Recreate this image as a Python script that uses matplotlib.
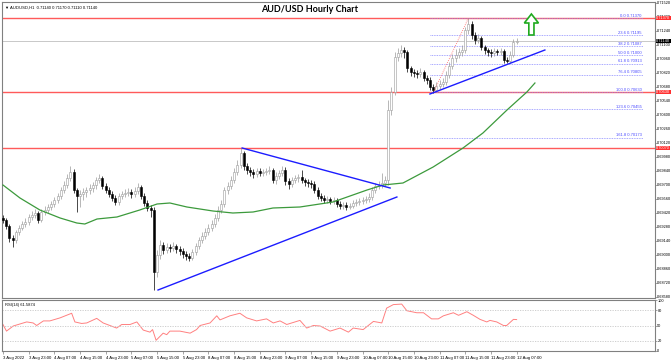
import matplotlib
matplotlib.use("Agg")
import matplotlib.pyplot as plt
from matplotlib.patches import FancyArrow
from matplotlib.transforms import blended_transform_factory

# ---- data (hourly bars, 3 Aug 15:00 -> 12 Aug 07:00) ----
title = "AUD/USD Hourly Chart"
header = "\u25bc AUDUSD,H1  0.71140 0.71170 0.71110 0.71140"

first_open = 0.6937
closes = [
    0.6935, 0.6929, 0.6917, 0.6915, 0.6923, 0.6927, 0.6931, 0.6933, 0.6938, 0.6940,
    0.6942, 0.6935, 0.6943, 0.6945, 0.6948, 0.6951, 0.6955, 0.6959, 0.6965, 0.6970,
    0.6977, 0.6983, 0.6965, 0.6959, 0.6961, 0.6963, 0.6965, 0.6967, 0.6970, 0.6975,
    0.6977, 0.6969, 0.6965, 0.6961, 0.6957, 0.6953, 0.6959, 0.6961, 0.6962, 0.6963,
    0.6961, 0.6964, 0.6968, 0.6959, 0.6952, 0.6947, 0.6945, 0.6883, 0.6900, 0.6910,
    0.6905, 0.6908, 0.6907, 0.6909, 0.6906, 0.6904, 0.6901, 0.6899, 0.6897, 0.6903,
    0.6909, 0.6915, 0.6919, 0.6923, 0.6927, 0.6931, 0.6937, 0.6945, 0.6951, 0.6965,
    0.6969, 0.6975, 0.6983, 0.6990, 0.7002, 0.6989, 0.6985, 0.6983, 0.6981, 0.6984,
    0.6982, 0.6983, 0.6984, 0.6985, 0.6975, 0.6979, 0.6982, 0.6985, 0.6974, 0.6971,
    0.6975, 0.6977, 0.6978, 0.6975, 0.6973, 0.6972, 0.6971, 0.6965, 0.6959, 0.6957,
    0.6955, 0.6956, 0.6954, 0.6955, 0.6951, 0.6949, 0.6950, 0.6948, 0.6949, 0.6952,
    0.6953, 0.6954, 0.6955, 0.6956, 0.6958, 0.6965, 0.6969, 0.6970, 0.6972, 0.6975,
    0.7045, 0.7063, 0.7098, 0.7102, 0.7105, 0.7103, 0.7087, 0.7083, 0.7082, 0.7081,
    0.7083, 0.7077, 0.7075, 0.7068, 0.7065, 0.7069, 0.7071, 0.7073, 0.7080, 0.7089,
    0.7097, 0.7100, 0.7103, 0.7105, 0.7125, 0.7131, 0.7120, 0.7115, 0.7117, 0.7108,
    0.7105, 0.7103, 0.7102, 0.7104, 0.7103, 0.7104, 0.7095, 0.7094, 0.7100, 0.7113,
    0.7114,
]
highs = [
    0.6940, 0.6937, 0.6931, 0.6920, 0.6925, 0.6930, 0.6934, 0.6937, 0.6941, 0.6944,
    0.6946, 0.6944, 0.6946, 0.6949, 0.6951, 0.6954, 0.6958, 0.6962, 0.6968, 0.6974,
    0.6981, 0.6989, 0.6986, 0.6967, 0.6965, 0.6967, 0.6968, 0.6971, 0.6973, 0.6978,
    0.6981, 0.6979, 0.6972, 0.6968, 0.6964, 0.6960, 0.6962, 0.6964, 0.6966, 0.6967,
    0.6966, 0.6968, 0.6972, 0.6970, 0.6962, 0.6955, 0.6950, 0.6948, 0.6905, 0.6915,
    0.6913, 0.6912, 0.6911, 0.6913, 0.6911, 0.6909, 0.6907, 0.6904, 0.6902, 0.6906,
    0.6912, 0.6918, 0.6923, 0.6927, 0.6931, 0.6935, 0.6941, 0.6949, 0.6955, 0.6968,
    0.6973, 0.6979, 0.6987, 0.6995, 0.7007, 0.7004, 0.6992, 0.6988, 0.6986, 0.6987,
    0.6987, 0.6986, 0.6987, 0.6989, 0.6987, 0.6983, 0.6985, 0.6989, 0.6988, 0.6977,
    0.6978, 0.6980, 0.6981, 0.6985, 0.6977, 0.6976, 0.6975, 0.6974, 0.6968, 0.6962,
    0.6960, 0.6959, 0.6958, 0.6958, 0.6957, 0.6954, 0.6953, 0.6953, 0.6952, 0.6955,
    0.6956, 0.6957, 0.6958, 0.6959, 0.6962, 0.6968, 0.6972, 0.6974, 0.6982, 0.6979,
    0.7055, 0.7068, 0.7103, 0.7107, 0.7110, 0.7108, 0.7105, 0.7089, 0.7086, 0.7085,
    0.7087, 0.7085, 0.7080, 0.7078, 0.7071, 0.7073, 0.7075, 0.7077, 0.7084, 0.7093,
    0.7101, 0.7106, 0.7107, 0.7110, 0.7128, 0.7137, 0.7134, 0.7123, 0.7121, 0.7119,
    0.7110, 0.7107, 0.7106, 0.7107, 0.7106, 0.7107, 0.7106, 0.7098, 0.7104, 0.7116,
    0.7117,
]
lows = [
    0.6932, 0.6926, 0.6913, 0.6908, 0.6912, 0.6920, 0.6925, 0.6928, 0.6930, 0.6935,
    0.6937, 0.6932, 0.6933, 0.6940, 0.6942, 0.6945, 0.6948, 0.6952, 0.6956, 0.6962,
    0.6967, 0.6974, 0.6962, 0.6943, 0.6948, 0.6955, 0.6958, 0.6961, 0.6963, 0.6966,
    0.6972, 0.6966, 0.6962, 0.6958, 0.6954, 0.6950, 0.6950, 0.6956, 0.6958, 0.6959,
    0.6957, 0.6958, 0.6961, 0.6956, 0.6949, 0.6944, 0.6938, 0.6865, 0.6878, 0.6896,
    0.6901, 0.6902, 0.6903, 0.6904, 0.6902, 0.6900, 0.6897, 0.6895, 0.6894, 0.6895,
    0.6900, 0.6906, 0.6912, 0.6916, 0.6920, 0.6924, 0.6928, 0.6934, 0.6942, 0.6948,
    0.6961, 0.6966, 0.6972, 0.6980, 0.6987, 0.6985, 0.6981, 0.6979, 0.6977, 0.6978,
    0.6979, 0.6979, 0.6980, 0.6981, 0.6972, 0.6971, 0.6976, 0.6979, 0.6970, 0.6966,
    0.6968, 0.6972, 0.6973, 0.6972, 0.6969, 0.6968, 0.6967, 0.6962, 0.6956, 0.6954,
    0.6952, 0.6952, 0.6951, 0.6951, 0.6948, 0.6946, 0.6946, 0.6945, 0.6946, 0.6947,
    0.6949, 0.6950, 0.6951, 0.6952, 0.6953, 0.6955, 0.6962, 0.6966, 0.6967, 0.6969,
    0.6970, 0.7040, 0.7060, 0.7094, 0.7098, 0.7097, 0.7083, 0.7079, 0.7078, 0.7077,
    0.7078, 0.7074, 0.7071, 0.7065, 0.7062, 0.7063, 0.7066, 0.7068, 0.7070, 0.7077,
    0.7086, 0.7093, 0.7097, 0.7099, 0.7102, 0.7121, 0.7116, 0.7111, 0.7112, 0.7105,
    0.7101, 0.7099, 0.7098, 0.7099, 0.7100, 0.7100, 0.7092, 0.7092, 0.7092, 0.7098,
    0.7111,
]

# one time label every 8 bars
time_labels = [
    "3 Aug 2022", "3 Aug 23:00", "4 Aug 07:00", "4 Aug 15:00", "4 Aug 23:00",
    "5 Aug 07:00", "5 Aug 15:00", "5 Aug 23:00", "8 Aug 07:00", "8 Aug 15:00",
    "8 Aug 23:00", "9 Aug 07:00", "9 Aug 15:00", "9 Aug 23:00", "10 Aug 07:00",
    "10 Aug 15:00", "10 Aug 23:00", "11 Aug 07:00", "11 Aug 15:00", "11 Aug 23:00",
    "12 Aug 07:00",
]
label_step = 8

# green moving average (bar index, price)
ma_bar = [0, 5.3, 11.5, 17.8, 23.0, 25.5, 29.3, 35.5, 42.6, 48.0, 52.0, 57.3,
          65.4, 71.6, 77.9, 84.1, 92.5, 102.8, 113.4, 118.4, 124.6, 134.0,
          143.3, 149.5, 157.0, 163.2, 165.7]
ma_price = [0.6970, 0.6957, 0.6945, 0.6937, 0.6932, 0.6931, 0.6936, 0.6938,
            0.6945, 0.6951, 0.6952, 0.6948, 0.6944, 0.6942, 0.6943, 0.6947,
            0.6948, 0.6953, 0.6965, 0.6970, 0.6972, 0.6988, 0.7007, 0.7022,
            0.7045, 0.7063, 0.7072]

# RSI(14) (bar index, value)
rsi_bar = [0, 1.1, 3.2, 7.4, 9.4, 10.5, 12.6, 14.6, 17.8, 21.4, 22.4, 24.5, 26.1,
           29.2, 31.2, 35.4, 37.0, 39.6, 41.7, 43.7, 45.8, 46.6, 47.7, 49.9, 51.0,
           52.0, 55.1, 58.3, 60.3, 61.4, 64.5, 66.6, 67.6, 70.7, 73.8, 75.9, 79.0,
           82.1, 84.2, 86.3, 88.4, 92.5, 94.6, 96.7, 98.8, 101.9, 105.0, 107.6,
           109.1, 112.2, 115.4, 118.0, 119.5, 121.6, 124.2, 125.8, 128.9, 131.0,
           133.5, 135.6, 137.2, 140.3, 141.9, 144.5, 146.5, 148.6, 150.7, 151.7,
           153.8, 155.9, 156.9, 159.0, 160.0]
rsi_value = [52, 39, 49, 57, 55, 50, 59, 59, 65, 74, 57, 54, 55, 64, 55, 45, 52,
             52, 57, 41, 37, 42, 21, 35, 32, 39, 39, 35, 42, 50, 55, 69, 61, 69,
             74, 65, 59, 63, 55, 59, 52, 60, 45, 50, 49, 39, 45, 37, 45, 42, 58,
             55, 84, 91, 92, 79, 75, 75, 63, 63, 69, 75, 70, 77, 70, 62, 57, 60,
             57, 50, 50, 62, 61.6]
rsi_levels = [20, 50, 80]
rsi_text = "RSI(14) 61.5874"

red_levels = [0.7137, 0.7063, 0.7007]
current_price = 0.7114

fib_high = 0.7137
fib_low = 0.7063
fib_ratios = [0.0, 23.6, 38.2, 50.0, 61.8, 76.4, 100.0, 123.6, 161.8]
fib_start, fib_end = 133, 199.4

triangle_top = [(74.5, 0.7007), (120.6, 0.6967)]
triangle_bottom = [(48.3, 0.6865), (122.7, 0.6958)]
support_line = [(133.0, 0.7061), (168.8, 0.7105)]
fib_swing = [(134, 0.7062), (145, 0.7137)]
arrow_bar, arrow_from, arrow_to = 164.6, 0.7120, 0.7141


def draw_plot():
    plt.rcParams["font.family"] = ["Liberation Sans", "DejaVu Sans"]
    fig = plt.figure(figsize=(6.72, 3.61), dpi=100)
    ax = fig.add_axes([2 / 672, 1 - 298 / 361, 653 / 672, 296 / 361])
    ax_rsi = fig.add_axes([2 / 672, 1 - 351 / 361, 653 / 672, 51 / 361])

    n = len(closes)
    bars = list(range(n))
    opens = [first_open] + closes[:-1]

    # candles
    for i in bars:
        o, c = opens[i], closes[i]
        bull = c >= o
        wick = "#9a9a9a" if bull else "black"
        ax.vlines(i, lows[i], highs[i], color=wick, lw=0.5, zorder=3)
        ax.bar(i, max(abs(c - o), 0.00002), bottom=min(o, c), width=0.62,
               color="white" if bull else "black",
               edgecolor="#9a9a9a" if bull else "black", lw=0.4, zorder=4)

    # horizontal levels
    for lvl in red_levels:
        ax.axhline(lvl, color="#ff5a5a", lw=1.0, zorder=2)
    ax.axhline(current_price, color="#c8c8c8", lw=0.7, zorder=1)

    # fibonacci retracement
    for r in fib_ratios:
        lvl = fib_high - r / 100 * (fib_high - fib_low)
        ax.hlines(lvl, fib_start, fib_end, colors="#8c8cff", linestyles=(0, (1, 1)),
                  lw=0.6, zorder=2)
        ax.text(fib_end - 0.5, lvl + 0.00003, f"{r:.1f} {lvl:.5f}", ha="right",
                va="bottom", fontsize=3.0, color="#4a4aff", zorder=5)
    ax.plot(*zip(*fib_swing), color="#ff6060", lw=0.6, ls=(0, (1, 1.5)), zorder=5)

    # moving average and trend lines
    ax.plot(ma_bar, ma_price, color="#3c9a3c", lw=0.9, zorder=5)
    for line in (triangle_top, triangle_bottom, support_line):
        ax.plot(*zip(*line), color="#1c1cff", lw=1.0, zorder=6)

    arrow = FancyArrow(arrow_bar, arrow_from, 0, arrow_to - arrow_from, width=1.6,
                       head_width=4.4, head_length=0.0009, length_includes_head=True,
                       facecolor="white", edgecolor="#1faa1f", lw=1.2, zorder=7)
    ax.add_patch(arrow)

    ax.set_xlim(-0.3, 203.1)
    ax.set_ylim(0.6857, 0.7153)
    ax.set_xticks([])
    ticks = [0.6858 + 0.0014 * k for k in range(22)]
    ax.set_yticks(ticks)
    ax.set_yticklabels([f"{t:.5f}" for t in ticks])
    ax.yaxis.tick_right()
    ax.tick_params(axis="y", labelsize=2.8, length=1.2, width=0.5, pad=0.5,
                   color="#808080")

    # price boxes on the right scale
    trans = blended_transform_factory(ax.transAxes, ax.transData)
    for lvl in red_levels:
        ax.text(1.0018, lvl, f"{lvl:.5f}", transform=trans, fontsize=2.8,
                color="white", va="center", ha="left", clip_on=False, zorder=8,
                bbox=dict(boxstyle="square,pad=0.1", fc="#ff3030", ec="none"))
    ax.text(1.0018, current_price, f"{current_price:.5f}", transform=trans,
            fontsize=2.8, color="white", va="center", ha="left", clip_on=False,
            zorder=8, bbox=dict(boxstyle="square,pad=0.1", fc="black", ec="none"))

    ax.text(0.004, 0.988, header, transform=ax.transAxes, fontsize=3.0,
            va="top", ha="left")
    fig.text(310 / 672, 1 - 9 / 361, title, ha="center", va="center",
             fontsize=6.5, fontweight="bold", family="Lato")

    # RSI panel
    ax_rsi.plot(rsi_bar, rsi_value, color="#ff8080", lw=0.7)
    for lvl in rsi_levels:
        ax_rsi.axhline(lvl, color="#c8c8c8", lw=0.6, ls=(0, (1.5, 1.5)))
    ax_rsi.set_xlim(-0.3, 203.1)
    ax_rsi.set_ylim(0, 100)
    ax_rsi.set_yticks([0, 20, 50, 80, 100])
    ax_rsi.yaxis.tick_right()
    ax_rsi.tick_params(axis="y", labelsize=2.8, length=1.2, width=0.5, pad=0.5,
                       color="#808080")
    ax_rsi.text(0.004, 0.95, rsi_text, transform=ax_rsi.transAxes, fontsize=3.0,
                va="top", ha="left")

    ax_rsi.set_xticks(range(0, n, label_step))
    ax_rsi.set_xticklabels(time_labels)
    ax_rsi.tick_params(axis="x", labelsize=3.1, length=2.5, width=0.5, pad=1,
                       color="#808080")
    for lab in ax_rsi.get_xticklabels():
        lab.set_ha("left")

    for a in (ax, ax_rsi):
        for s in a.spines.values():
            s.set_color("#808080")
            s.set_linewidth(0.8)

    fig.savefig("out.png", dpi=100, facecolor="white")


draw_plot()
